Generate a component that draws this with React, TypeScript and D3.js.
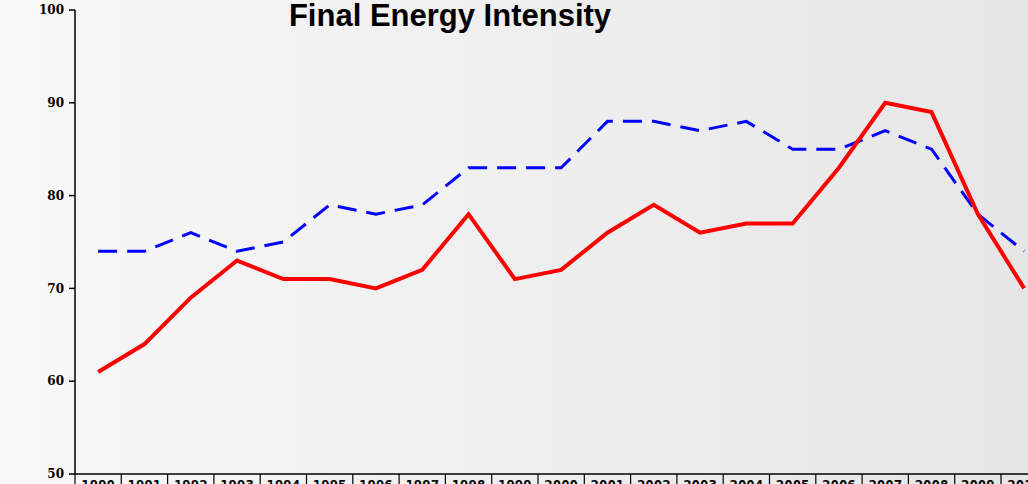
import React from "react";
import * as d3 from "d3";

const years = ["1990","1991","1992","1993","1994","1995","1996","1997","1998","1999","2000","2001","2002","2003","2004","2005","2006","2007","2008","2009","2010"];
const redSeries = [61,64,69,73,71,71,70,72,78,71,72,76,79,76,77,77,83,90,89,78,70];
const blueSeries = [74,74,76,74,75,79,78,79,83,83,83,88,88,87,88,85,85,87,85,78,74];
const yTicks = [50,60,70,80,90,100];
const title = "Final Energy Intensity";

export default function App() {
  const W = 1028, H = 484;
  const left = 75, top = 10, bottom = 474;
  const bw = 46.3;
  const x = d3.scaleBand().domain(years).range([left, left + bw * years.length]).padding(0);
  const y = d3.scaleLinear().domain([50, 100]).range([bottom, top]);
  const line = d3.line<number>().x((_, i) => (x(years[i]) as number) + x.bandwidth() / 2).y(d => y(d));
  return (
    <svg width={W} height={H} style={{ position: "absolute", left: 0, top: 0 }}>
      <defs>
        <linearGradient id="bg" x1="0" y1="0" x2="1" y2="0">
          <stop offset="0" stopColor="#f8f8f8" />
          <stop offset="1" stopColor="#e6e6e6" />
        </linearGradient>
      </defs>
      <rect x={0} y={0} width={W} height={H} fill="url(#bg)" />
      <text x={450} y={26} textAnchor="middle" fontFamily="Liberation Sans, Arial, sans-serif" fontWeight="bold" fontSize={31} fill="#000">{title}</text>
      {/* y axis */}
      <line x1={left} x2={left} y1={top} y2={bottom} stroke="#000" strokeWidth={1.5} />
      {yTicks.map(t => (
        <g key={t}>
          <line x1={left - 6} x2={left} y1={y(t)} y2={y(t)} stroke="#000" strokeWidth={1.5} />
          <text x={64} y={y(t)} dy="0.35em" textAnchor="end" fontFamily="DejaVu Serif, serif" fontWeight="bold" fontSize={12} fill="#000">{t}</text>
        </g>
      ))}
      {/* x axis */}
      <line x1={left} x2={W} y1={bottom} y2={bottom} stroke="#000" strokeWidth={1.5} />
      {years.map(yr => {
        const x0 = x(yr) as number;
        return (
          <g key={yr}>
            <line x1={x0} x2={x0} y1={bottom} y2={H} stroke="#000" strokeWidth={1.2} />
            <text x={x0 + bw / 2} y={bottom + 16} textAnchor="middle" fontFamily="DejaVu Sans Mono, monospace" fontWeight="bold" fontSize={14} fill="#000">{yr}</text>
          </g>
        );
      })}
      <path d={line(blueSeries) || ""} fill="none" stroke="#0000ff" strokeWidth={3} strokeDasharray="19 10" />
      <path d={line(redSeries) || ""} fill="none" stroke="#ff0000" strokeWidth={4} strokeLinejoin="miter" />
    </svg>
  );
}
